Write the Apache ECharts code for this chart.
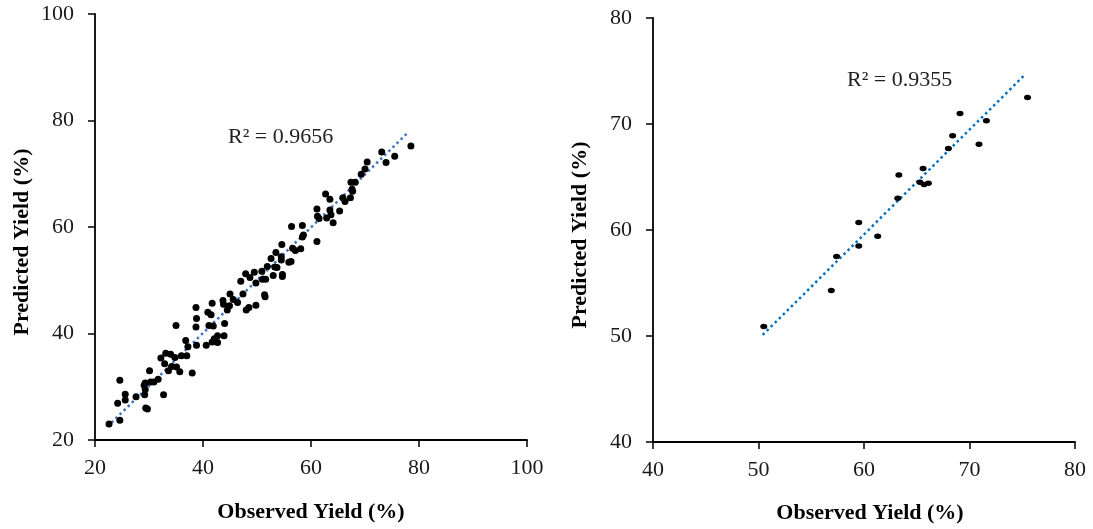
<!DOCTYPE html>
<html>
<head>
<meta charset="utf-8">
<script src="https://cdn.jsdelivr.net/npm/echarts@6/dist/echarts.min.js"></script>
<style>html,body{margin:0;padding:0;background:#fff}#c{width:1093px;height:529px}</style>
</head>
<body>
<div id="c"></div>
<script>
// Left panel: observed vs predicted yield (%)
var leftPoints = [
  [22.6,23.0],[24.6,23.7],[24.2,26.9],[24.6,31.2],[25.6,27.5],[25.6,28.6],[27.6,28.1],
  [29.4,26.0],[29.7,25.8],[29.2,28.5],[29.3,29.5],[29.1,30.3],[29.3,30.7],[30.1,33.0],
  [30.3,30.9],[30.9,30.9],[31.7,31.4],[32.2,35.4],[32.7,28.5],[32.9,34.3],[33.1,36.3],
  [33.6,33.0],[34.0,36.1],[34.2,33.8],[34.8,35.5],[35.0,41.5],[35.1,33.7],[35.7,32.8],
  [36.0,35.8],[36.8,38.7],[37.0,35.8],[37.2,37.5],[38.0,32.6],[38.7,44.9],[38.8,42.8],
  [38.7,41.2],[38.8,37.8],[40.6,37.8],[40.9,44.0],[41.1,41.5],[41.5,43.5],[41.7,45.7],
  [41.9,41.4],[41.7,38.4],[42.1,39.0],[42.7,39.6],[42.7,38.3],[43.7,46.2],[43.8,45.5],
  [44.0,41.9],[43.9,39.6],[44.5,44.4],[44.9,45.2],[45.0,47.4],[45.6,46.4],[46.4,45.8],
  [47.0,49.8],[47.4,47.4],[47.9,51.2],[48.0,44.4],[48.5,44.9],[48.7,50.5],[49.5,51.5],
  [49.8,49.5],[49.8,45.3],[50.9,51.7],[51.0,50.2],[51.4,47.3],[51.5,46.9],[51.6,50.2],
  [51.9,52.6],[52.6,54.1],[53.0,50.9],[53.3,52.5],[53.5,55.2],[53.7,52.4],[54.5,54.4],
  [54.6,56.7],[54.7,51.1],[54.7,50.7],[54.5,53.8],[55.9,53.4],[56.3,53.5],[56.4,60.1],
  [56.6,56.0],[57.1,55.6],[58.1,55.9],[58.4,58.1],[58.4,60.3],[58.6,58.5],[61.1,63.4],
  [61.1,57.3],[61.2,62.0],[61.5,61.6],[62.7,66.2],[62.9,61.7],[63.5,65.2],[63.5,63.2],
  [63.7,62.3],[64.1,60.8],[65.3,63.0],[65.9,65.5],[66.3,64.8],[67.3,65.5],[67.4,68.4],
  [67.6,67.1],[67.7,66.7],[68.2,68.4],[69.3,69.9],[70.0,70.9],[70.4,72.2],[73.1,74.1],
  [73.9,72.1],[75.5,73.3],[78.5,75.2]
];
var leftTrend = [[22.3,22.5],[78.1,77.9]];
var leftR2 = "R² = 0.9656";
var leftTicks = [20,40,60,80,100];

// Right panel
var rightPoints = [
  [50.5,50.9],[56.9,54.3],[57.4,57.5],[59.5,60.7],[59.5,58.5],[61.3,59.4],[63.2,63.0],
  [63.3,65.2],[65.3,64.5],[65.6,65.8],[65.7,64.3],[66.1,64.4],[68.0,67.7],[68.4,68.9],
  [69.1,71.0],[70.9,68.1],[71.6,70.3],[75.5,72.5]
];
var rightTrend = [[50.4,50.1],[75.2,74.6]];
var rightR2 = "R² = 0.9355";
var rightTicks = [40,50,60,70,80];

var xTitle = "Observed Yield (%)";
var yTitle = "Predicted Yield (%)";

var FONT = "Liberation Serif";
function axis(min, max, interval, name, isX, gap, pad) {
  return {
    type: 'value', min: min, max: max, interval: interval,
    name: name, nameLocation: 'middle', nameGap: gap,
    nameTextStyle: {fontFamily: FONT, fontWeight: 'bold', fontSize: 22, color: '#000', padding: pad},
    splitLine: {show: false},
    axisLine: {show: true, onZero: false, lineStyle: {color: '#000', width: 1.8}},
    axisTick: {show: true, length: 7, lineStyle: {color: '#000', width: 1.5}},
    axisLabel: {fontFamily: FONT, fontSize: 22, color: '#1a1a1a', margin: isX ? 17 : 21}
  };
}

var chart = echarts.init(document.getElementById('c'), null, {renderer: 'canvas'});
chart.setOption({
  animation: false,
  backgroundColor: '#fff',
  grid: [
    {left: 95, top: 14, width: 432, height: 426},
    {left: 653, top: 18, width: 422, height: 427}
  ],
  xAxis: [
    Object.assign(axis(leftTicks[0], leftTicks[leftTicks.length-1], 20, xTitle, true, 61, [0,0,0,0]), {gridIndex: 0}),
    Object.assign(axis(rightTicks[0], rightTicks[rightTicks.length-1], 10, xTitle, true, 60, [0,0,0,12]), {gridIndex: 1})
  ],
  yAxis: [
    Object.assign(axis(leftTicks[0], leftTicks[leftTicks.length-1], 20, yTitle, false, 62, [0,30,0,0]), {gridIndex: 0}),
    Object.assign(axis(rightTicks[0], rightTicks[rightTicks.length-1], 10, yTitle, false, 62, [0,10,0,0]), {gridIndex: 1})
  ],
  series: [
    {type: 'line', xAxisIndex: 0, yAxisIndex: 0, data: leftTrend, showSymbol: false, symbol: 'none',
     lineStyle: {color: '#4472C4', width: 2.5, type: [2.5, 3.2], cap: 'butt'}, z: 1},
    {type: 'scatter', xAxisIndex: 0, yAxisIndex: 0, data: leftPoints, symbol: 'circle', symbolSize: 7,
     itemStyle: {color: '#000', opacity: 1}, z: 2},
    {type: 'line', xAxisIndex: 1, yAxisIndex: 1, data: rightTrend, showSymbol: false, symbol: 'none',
     lineStyle: {color: '#0070C0', width: 2.5, type: [2.5, 3.2], cap: 'butt'}, z: 1},
    {type: 'scatter', xAxisIndex: 1, yAxisIndex: 1, data: rightPoints, symbol: 'circle', symbolSize: [7, 5.5],
     itemStyle: {color: '#000', opacity: 1}, z: 2}
  ],
  graphic: [
    {type: 'text', left: 228, top: 126, style: {text: leftR2, font: '22px "Liberation Serif"', fill: '#222'}},
    {type: 'text', left: 847, top: 69, style: {text: rightR2, font: '22px "Liberation Serif"', fill: '#222'}}
  ]
});
</script>
</body>
</html>
